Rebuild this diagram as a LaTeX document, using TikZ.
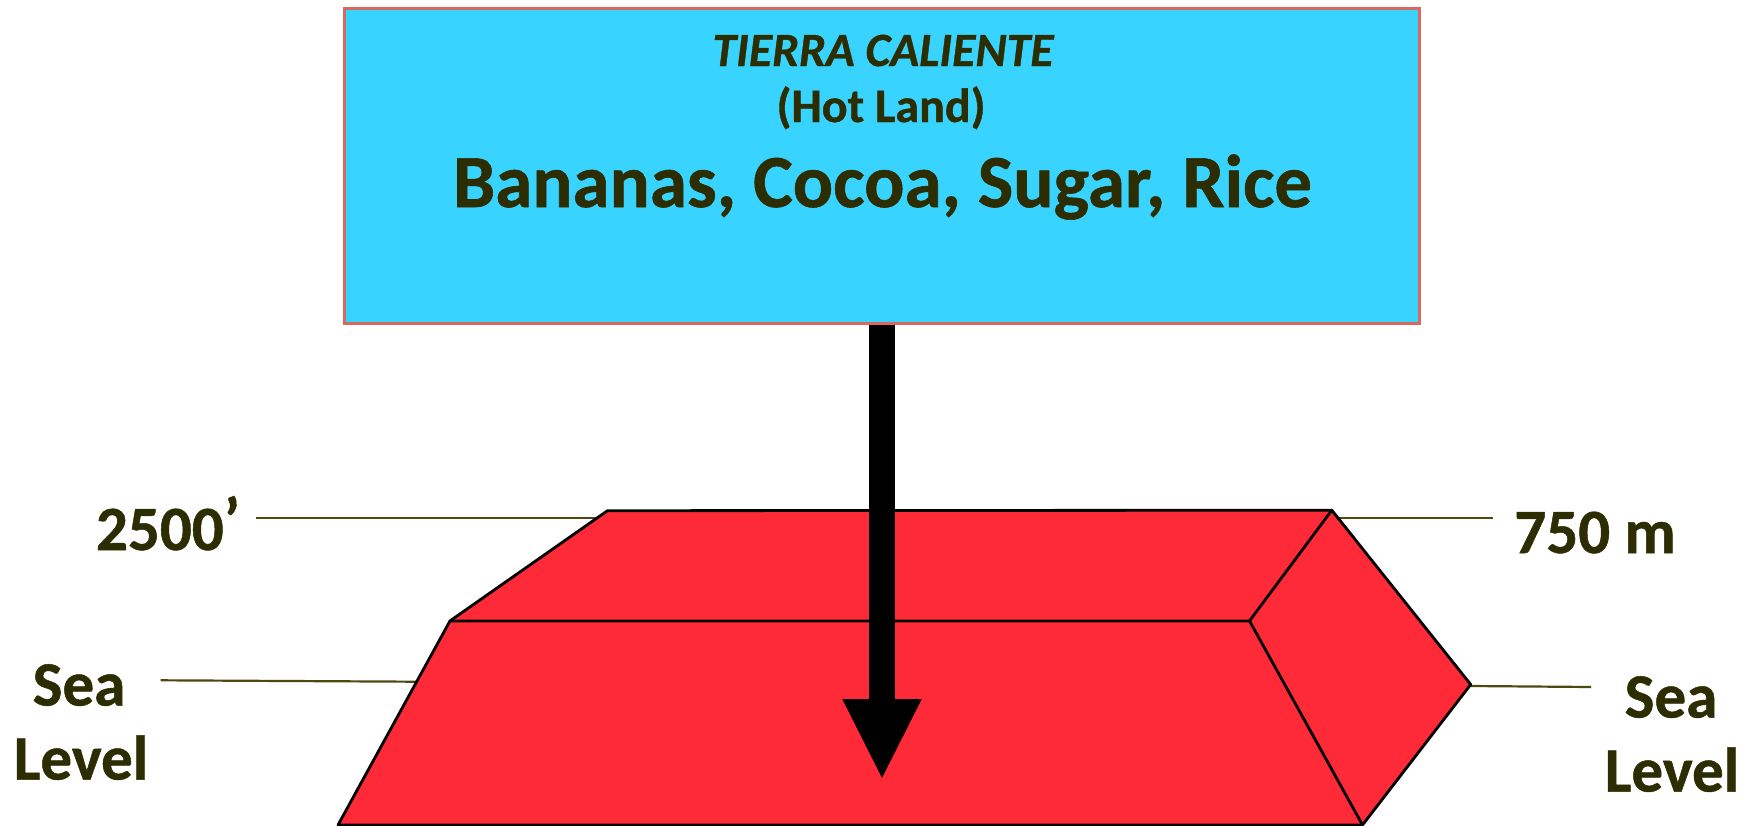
\documentclass[tikz,border=0pt]{standalone}
\usepackage{fontspec}
\setmainfont[BoldFeatures={FakeBold=0.8},BoldItalicFeatures={FakeBold=0.8}]{Carlito}
\usetikzlibrary{arrows.meta}
\definecolor{labelink}{HTML}{2D2D03}
\definecolor{leaderink}{HTML}{4A4A12}
\definecolor{skyfill}{HTML}{38D3FF}
\definecolor{boxedge}{HTML}{D9695F}
\definecolor{blockred}{HTML}{FF2A38}
\tikzset{
  lbl/.style={inner sep=0pt,anchor=base,text=labelink,font=\bfseries\fontsize{63}{63}\selectfont},
  midlbl/.style={inner sep=0pt,anchor=base,text=labelink,font=\bfseries\fontsize{48}{48}\selectfont},
  biglbl/.style={inner sep=0pt,anchor=base,text=labelink,font=\bfseries\fontsize{75}{75}\selectfont},
  leader/.style={draw=leaderink,line width=2.2pt},
  face/.style={fill=blockred,draw=black,line width=2.8pt,line join=round},
  edgeline/.style={draw=black,line width=2.8pt},
  bigarrow/.style={draw=black,line width=26.6pt,-{Triangle[length=81pt,width=73pt]}}
}
\begin{document}
\begin{tikzpicture}[x=1pt,y=-1pt]
\useasboundingbox (0,0) rectangle (1754,825);
% leaders
\coordinate (tl) at (255.6,518);
\coordinate (tlend) at (600,518);
\coordinate (sl) at (160.6,680.3);
\coordinate (slend) at (416,681.7);
\coordinate (tr) at (1492.6,518);
\coordinate (trend) at (1337,518);
\coordinate (sr) at (1591,687);
\coordinate (srend) at (1470.7,686);
\draw[leader] (tl) -- (tlend);
\draw[leader] (sl) -- (slend);
\draw[leader] (tr) -- (trend);
\draw[leader] (sr) -- (srend);
% block
\coordinate (a) at (607.5,510.7);
\coordinate (b) at (1331.8,510.2);
\coordinate (c) at (1470.7,684.5);
\coordinate (d) at (1362.5,825);
\coordinate (e) at (338,825);
\coordinate (f) at (450,620.9);
\coordinate (g) at (1249.5,620.9);
\path[face] (a) -- (b) -- (c) -- (d) -- (e) -- (f) -- cycle;
\draw[edgeline,line join=round] (f) -- (g) -- (b);
\draw[edgeline] (g) -- (d);
% sign
\node[rectangle,draw=boxedge,fill=skyfill,line width=2.8pt,minimum width=1074.5pt,minimum height=315.5pt,inner sep=0pt] (sign) at (882,166) {};
\coordinate (tip) at (882,780);
\draw[bigarrow] (sign.south -| tip) -- (tip);
% text
\node[midlbl,font=\bfseries\itshape\fontsize{47.7}{47.7}\selectfont] (t1) at (883,66) {TIERRA CALIENTE};
\node[midlbl] (t2) at (881,122) {(Hot Land)};
\node[biglbl] (t3) at (882.5,207) {Bananas, Cocoa, Sugar, Rice};
\node[lbl] (h1) at (168,550) {2500\raisebox{0.13em}{’}};
\node[lbl] (h2) at (1595,553) {750 m};
\node[lbl] (s1) at (79,705.5) {Sea};
\node[lbl] (l1) at (81,779.5) {Level};
\node[lbl] (s2) at (1671,717.5) {Sea};
\node[lbl] (l2) at (1672,791.5) {Level};
\end{tikzpicture}
\end{document}
